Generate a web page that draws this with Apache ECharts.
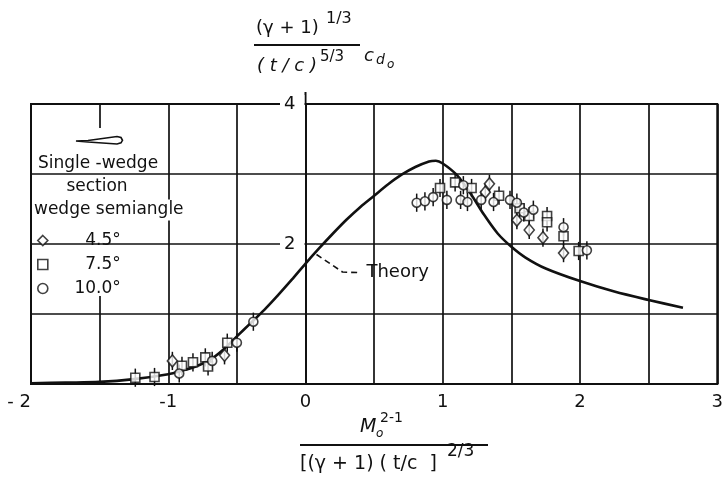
<!DOCTYPE html>
<html>
<head>
<meta charset="utf-8">
<script src="https://cdn.jsdelivr.net/npm/echarts@6/dist/echarts.min.js"></script>
<style>
  html, body { margin: 0; padding: 0; background: #fff; }
  #chart { width: 726px; height: 479px; }
</style>
</head>
<body>
<div id="chart"></div>
<script>
// theory curve
const theoryX = [-2, -1.75, -1.5, -1.25, -1.0, -0.9, -0.8, -0.7, -0.6, -0.5, -0.4, -0.3, -0.2, -0.1, 0,
  0.1, 0.2, 0.3, 0.4, 0.5, 0.6, 0.7, 0.8, 0.9, 0.95, 1.0, 1.1, 1.2, 1.3, 1.4, 1.5, 1.6, 1.75, 2.0, 2.25, 2.5, 2.75]
const theoryY = [0.01, 0.02, 0.03, 0.07, 0.14, 0.19, 0.25, 0.34, 0.49, 0.68, 0.87, 1.06, 1.27, 1.49, 1.72,
  1.94, 2.15, 2.35, 2.53, 2.69, 2.85, 2.99, 3.10, 3.18, 3.19, 3.15, 2.99, 2.73, 2.42, 2.15, 1.96, 1.81, 1.65, 1.47, 1.32, 1.20, 1.09]

// test points [x, y] per wedge semiangle
const wedge45 = [[-0.97, 0.33], [-0.59, 0.41], [1.31, 2.74], [1.34, 2.86], [1.54, 2.34],
  [1.63, 2.20], [1.73, 2.09], [1.88, 1.87]]
const wedge75 = [[-1.24, 0.09], [-1.10, 0.10], [-0.90, 0.26], [-0.82, 0.31], [-0.73, 0.38],
  [-0.71, 0.25], [-0.57, 0.59], [0.98, 2.80], [1.09, 2.88], [1.21, 2.80], [1.41, 2.69],
  [1.56, 2.51], [1.63, 2.40], [1.76, 2.40], [1.76, 2.31], [1.88, 2.11], [1.99, 1.90]]
const wedge100 = [[-0.92, 0.15], [-0.68, 0.33], [-0.50, 0.59], [-0.38, 0.89], [0.81, 2.59],
  [0.87, 2.61], [0.93, 2.67], [1.03, 2.63], [1.13, 2.63], [1.15, 2.84], [1.18, 2.60],
  [1.28, 2.63], [1.37, 2.60], [1.49, 2.63], [1.54, 2.59], [1.59, 2.45], [1.66, 2.49],
  [1.88, 2.24], [2.05, 1.91]]
const errHalf = 0.13

// dashed leader to the "Theory" note
const leaderX = [0.08, 0.27, 0.40]
const leaderY = [1.85, 1.60, 1.59]

const xTickLabels = [-2, -1, 0, 1, 2, 3]
const yTickLabels = [2, 4]
const seriesNames = ['4.5°', '7.5°', '10.0°']

const ink = '#111'
const font = '"DejaVu Sans", sans-serif'

const chart = echarts.init(document.getElementById('chart'), null, { renderer: 'canvas' })

function pointSeries(name, data, symbol, size) {
  return {
    name,
    type: 'scatter',
    data,
    symbol,
    symbolSize: size,
    itemStyle: { color: '#fff', borderColor: ink, borderWidth: 1.6 },
    z: 4,
    silent: true
  }
}

const allPoints = wedge45.concat(wedge75, wedge100)

function txt(x, y, text, size, opts) {
  return {
    type: 'text', x, y, z: 5, silent: true,
    style: Object.assign({
      text, font: size + 'px ' + font, fill: ink, align: 'left', verticalAlign: 'middle'
    }, opts || {})
  }
}

const option = {
  animation: false,
  backgroundColor: '#fff',
  textStyle: { fontFamily: font },
  grid: {
    left: 31, right: 4, top: 104, bottom: 95,
    show: true, borderColor: ink, borderWidth: 2, backgroundColor: 'transparent'
  },
  legend: {
    orient: 'vertical',
    left: 37,
    top: 232,
    padding: 0,
    itemWidth: 10,
    itemHeight: 10,
    itemGap: 7,
    selectedMode: false,
    data: [
      { name: seriesNames[0], icon: 'diamond', itemStyle: { color: '#fff', borderColor: ink, borderWidth: 1.6 } },
      { name: seriesNames[1], icon: 'rect', itemStyle: { color: '#fff', borderColor: ink, borderWidth: 1.6 } },
      { name: seriesNames[2], icon: 'circle', itemStyle: { color: '#fff', borderColor: ink, borderWidth: 1.6 } }
    ],
    formatter: '{a|{name}}',
    textStyle: {
      color: ink,
      rich: { a: { fontSize: 17, lineHeight: 18, width: 68, align: 'right', fontFamily: font, color: ink } }
    },
    z: 6
  },
  xAxis: {
    type: 'value',
    min: -2,
    max: 3,
    interval: 0.5,
    axisLine: { show: true, onZero: false, lineStyle: { color: ink, width: 2 } },
    axisTick: { show: false },
    axisLabel: {
      formatter: v => xTickLabels.includes(v) ? (v === -2 ? '- 2' : String(v)) : '',
      color: ink, fontSize: 18, margin: 9, fontFamily: font,
      alignMinLabel: 'right'
    },
    splitLine: { show: true, lineStyle: { color: ink, width: 1.7 } }
  },
  yAxis: {
    type: 'value',
    min: 0,
    max: 4,
    interval: 1,
    axisLine: { show: true, lineStyle: { color: ink, width: 2 } },
    axisTick: { show: false },
    // the figure prints its y numbers beside the x = 0 line
    axisLabel: {
      formatter: v => yTickLabels.includes(v) ? String(v) : '',
      inside: true,
      margin: 249,
      color: ink, fontSize: 18, fontFamily: font,
      backgroundColor: '#fff', padding: [0, 9, 0, 4]
    },
    splitLine: { show: true, lineStyle: { color: ink, width: 1.7 } },
    z: 5
  },
  series: [
    {
      name: 'Theory',
      type: 'line',
      data: theoryX.map((x, i) => [x, theoryY[i]]),
      smooth: 0.3,
      showSymbol: false,
      lineStyle: { color: ink, width: 2.6 },
      z: 3,
      silent: true
    },
    {
      name: 'leader',
      type: 'line',
      data: leaderX.map((x, i) => [x, leaderY[i]]),
      showSymbol: false,
      lineStyle: { color: ink, width: 1.6, type: [6, 4] },
      endLabel: {
        show: true,
        formatter: 'Theory',
        color: ink,
        fontSize: 18,
        fontFamily: font,
        distance: 6
      },
      z: 3,
      silent: true
    },
    {
      name: 'error',
      type: 'custom',
      data: allPoints,
      encode: { x: 0, y: 1 },
      renderItem: (params, api) => {
        const x = api.value(0)
        const y = api.value(1)
        const a = api.coord([x, y - errHalf])
        const b = api.coord([x, y + errHalf])
        return {
          type: 'line',
          shape: { x1: a[0], y1: a[1], x2: b[0], y2: b[1] },
          style: { stroke: ink, lineWidth: 1.5 }
        }
      },
      z: 3,
      silent: true
    },
    pointSeries(seriesNames[0], wedge45, 'diamond', [10, 12]),
    pointSeries(seriesNames[1], wedge75, 'rect', 9),
    pointSeries(seriesNames[2], wedge100, 'circle', 9)
  ],
  graphic: [
    // legend block masks the grid behind it
    { type: 'rect', shape: { x: 33, y: 128, width: 132, height: 104 }, style: { fill: '#fff' }, z: 1, silent: true },
    { type: 'rect', shape: { x: 33, y: 232, width: 120, height: 64 }, style: { fill: '#fff' }, z: 1, silent: true },
    {
      type: 'polygon',
      shape: { points: [[76, 141], [88, 140.5], [117, 136.5], [121, 137.5], [122.5, 140.3], [121, 142.8], [117, 144], [88, 142]] },
      style: { fill: '#fff', stroke: ink, lineWidth: 1.6 },
      z: 5, silent: true
    },
    txt(98, 164, 'Single -wedge', 17, { align: 'center' }),
    txt(97, 187, 'section', 17, { align: 'center' }),
    txt(33, 210, 'wedge semiangle', 17, { backgroundColor: '#fff', padding: [2, 2, 2, 1] }),

    // y title
    txt(256, 28, '(γ + 1)', 18),
    txt(326, 19, '1/3', 16),
    { type: 'line', shape: { x1: 254, y1: 45, x2: 360, y2: 45 }, style: { stroke: ink, lineWidth: 2 }, silent: true },
    txt(257, 66, '( t / c )', 18, { font: 'italic 18px ' + font }),
    txt(320, 57, '5/3', 15),
    txt(364, 56, 'c', 18, { font: 'italic 18px ' + font }),
    txt(376, 60, 'd', 14, { font: 'italic 14px ' + font }),
    txt(387, 65, 'o', 12, { font: 'italic 12px ' + font }),

    // x title
    txt(360, 427, 'M', 19, { font: 'italic 19px ' + font }),
    txt(376, 434, 'o', 12, { font: 'italic 12px ' + font }),
    txt(380, 418, '2-1', 14),
    { type: 'line', shape: { x1: 300, y1: 445, x2: 488, y2: 445 }, style: { stroke: ink, lineWidth: 2 }, silent: true },
    txt(300, 464, '[(γ + 1) ( t/c  ]', 19),
    txt(447, 452, '2/3', 17)
  ]
}

chart.setOption(option)

// the x = 0 line pokes a little above the frame
const top0 = chart.convertToPixel({ gridIndex: 0 }, [0, 4])
chart.setOption({
  graphic: option.graphic.concat([{
    type: 'line',
    shape: { x1: top0[0], y1: top0[1] - 12, x2: top0[0], y2: top0[1] },
    style: { stroke: ink, lineWidth: 2 },
    silent: true
  }])
})
</script>
</body>
</html>
